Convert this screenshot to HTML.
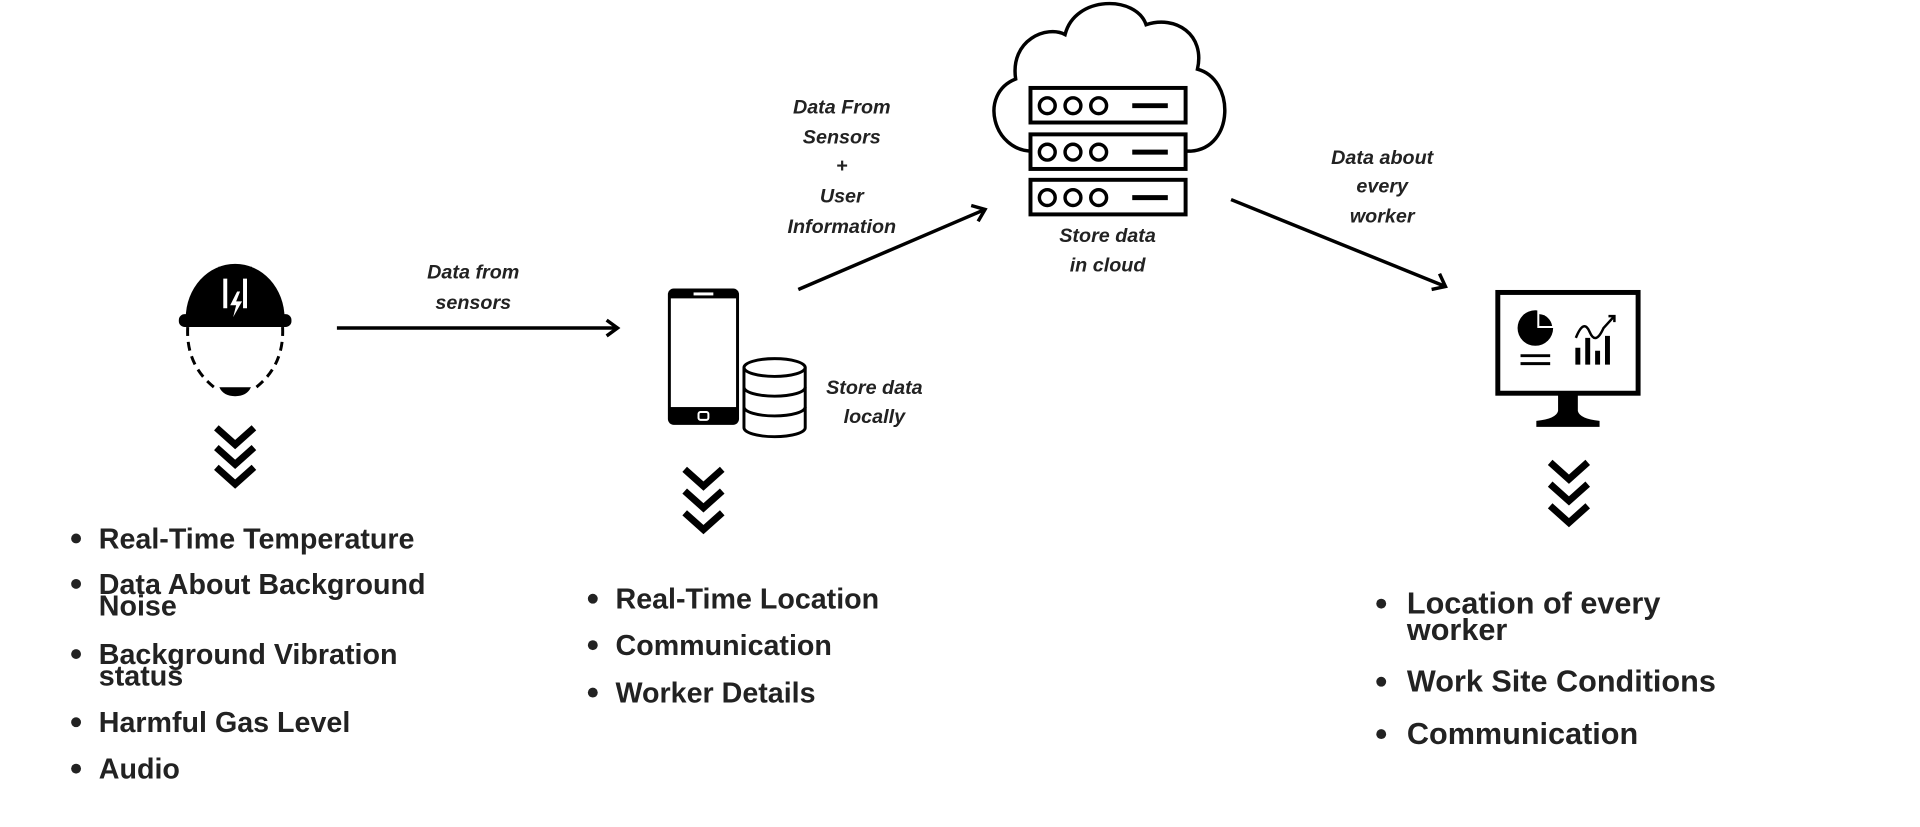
<!DOCTYPE html>
<html><head><meta charset="utf-8"><style>
html,body{margin:0;padding:0;background:#fff;}
svg{display:block}
.lbl{font-family:"Liberation Sans",sans-serif;font-style:italic;font-weight:bold;font-size:20px;fill:#222;text-anchor:middle}
.li{font-family:"Liberation Sans",sans-serif;font-weight:bold;font-size:29px;fill:#222}
.lr{font-family:"Liberation Sans",sans-serif;font-weight:bold;font-size:31px;fill:#222}
</style></head><body>
<svg width="1920" height="827" viewBox="0 0 1920 827" xmlns="http://www.w3.org/2000/svg">
<defs>
<g id="chev"><path d="M-19 0 L0 17 L19 0" fill="none" stroke="#000" stroke-width="7"/></g>
</defs>
<g transform="scale(0.988)">
<path d="M188 322 A50 55 0 0 1 288 322 Z" fill="#000"/>
<rect x="181" y="318" width="114" height="13" rx="6" fill="#000"/>
<rect x="221" y="270" width="34" height="12" fill="#000"/>
<path d="M228 282 v30 M248 282 v30" stroke="#fff" stroke-width="4"/>
<path d="M240 295 l-7 14 h6 l-3 12 l9 -16 h-6 l4 -10 z" fill="#fff"/>
<path d="M190 331 Q188 370 218 393 M286 331 Q288 370 258 393" fill="none" stroke="#000" stroke-width="3" stroke-dasharray="9 6"/>
<path d="M222 392 h32 q-4 9 -16 9 q-12 0 -16 -9z" fill="#000"/>
<use href="#chev" x="238" y="433"/><use href="#chev" x="238" y="453"/><use href="#chev" x="238" y="473"/>
<path d="M341 332 H624" stroke="#000" stroke-width="3.5"/>
<path d="M614 324 L625 332 L614 340" fill="none" stroke="#000" stroke-width="3.5"/>
<text class="lbl" x="479" y="282">Data from</text>
<text class="lbl" x="479" y="313">sensors</text>
<rect x="676" y="292" width="72" height="138" rx="6" fill="#000"/>
<rect x="679" y="302" width="66" height="110" fill="#fff"/>
<rect x="702" y="296" width="20" height="3" fill="#fff"/>
<rect x="707" y="417" width="10" height="8" rx="2" fill="none" stroke="#fff" stroke-width="2"/>
<g fill="#fff" stroke="#000" stroke-width="3">
<path d="M753 372 V433 A31 9 0 0 0 815 433 V372"/>
<ellipse cx="784" cy="372" rx="31" ry="9"/>
<path d="M753 392 A31 9 0 0 0 815 392 M753 412 A31 9 0 0 0 815 412" fill="none"/>
</g>
<text class="lbl" x="885" y="399">Store data</text>
<text class="lbl" x="885" y="428">locally</text>
<use href="#chev" x="712" y="475"/><use href="#chev" x="712" y="497"/><use href="#chev" x="712" y="519"/>
<path d="M808 293 L997 212" stroke="#000" stroke-width="3.5"/>
<path d="M983 208 L997 212 L990 224" fill="none" stroke="#000" stroke-width="3.5"/>
<text class="lbl" x="852" y="115">Data From</text>
<text class="lbl" x="852" y="145">Sensors</text>
<text class="lbl" x="852" y="174">+</text>
<text class="lbl" x="852" y="205">User</text>
<text class="lbl" x="852" y="236">Information</text>
<path d="M1045 153 C1005 153 990 95 1028 80 C1022 40 1060 25 1078 35 C1088 -5 1150 -5 1160 25 C1190 15 1220 35 1212 70 C1250 80 1250 150 1205 153 Z" fill="#fff" stroke="#000" stroke-width="3.5"/>
<g fill="#fff" stroke="#000" stroke-width="4">
<rect x="1043" y="89" width="157" height="35"/>
<rect x="1043" y="136" width="157" height="35"/>
<rect x="1043" y="182" width="157" height="35"/>
</g>
<g fill="none" stroke="#000" stroke-width="3.5">
<circle cx="1060" cy="107" r="8"/><circle cx="1086" cy="107" r="8"/><circle cx="1112" cy="107" r="8"/>
<circle cx="1060" cy="154" r="8"/><circle cx="1086" cy="154" r="8"/><circle cx="1112" cy="154" r="8"/>
<circle cx="1060" cy="200" r="8"/><circle cx="1086" cy="200" r="8"/><circle cx="1112" cy="200" r="8"/>
<path d="M1146 107 h36 M1146 154 h36 M1146 200 h36" stroke-width="5"/>
</g>
<text class="lbl" x="1121" y="245">Store data</text>
<text class="lbl" x="1121" y="275">in cloud</text>
<path d="M1246 202 L1463 290" stroke="#000" stroke-width="3.5"/>
<path d="M1449 293 L1463 290 L1457 277" fill="none" stroke="#000" stroke-width="3.5"/>
<text class="lbl" x="1399" y="166">Data about</text>
<text class="lbl" x="1399" y="195">every</text>
<text class="lbl" x="1399" y="225">worker</text>
<rect x="1516" y="296" width="142" height="102" fill="#fff" stroke="#000" stroke-width="5"/>
<path d="M1577 398 h20 v18 q2 8 22 10 v6 h-64 v-6 q20 -2 22 -10z" fill="#000"/>
<circle cx="1554" cy="332" r="18" fill="#000"/>
<path d="M1556 314 A18 18 0 0 1 1574 332 L1556 332Z" fill="#fff"/>
<path d="M1558 318 A14 14 0 0 1 1571 330 L1558 330Z" fill="#000"/>
<path d="M1539 360 h30 M1539 368 h30" stroke="#000" stroke-width="3"/>
<path d="M1597 352 v17 M1607 342 v27 M1617 355 v14 M1627 340 v29" stroke="#000" stroke-width="5"/>
<path d="M1595 342 q8 -20 14 -6 q6 14 14 -4 l10 -11" fill="none" stroke="#000" stroke-width="2.5"/>
<path d="M1628 320 l6 0 l0 6" fill="none" stroke="#000" stroke-width="2.5"/>
<use href="#chev" x="1588" y="468"/><use href="#chev" x="1588" y="490"/><use href="#chev" x="1588" y="512"/>
<g fill="#222">
<circle cx="77" cy="545" r="5"/><circle cx="77" cy="591" r="5"/><circle cx="77" cy="662" r="5"/><circle cx="77" cy="731" r="5"/><circle cx="77" cy="778" r="5"/>
<circle cx="600" cy="606" r="5"/><circle cx="600" cy="653" r="5"/><circle cx="600" cy="701" r="5"/>
<circle cx="1398" cy="611" r="5"/><circle cx="1398" cy="690" r="5"/><circle cx="1398" cy="743" r="5"/>
</g>
<text class="li" x="100" y="555">Real-Time Temperature</text>
<text class="li" x="100" y="601">Data About Background</text>
<text class="li" x="100" y="623">Noise</text>
<text class="li" x="100" y="672">Background Vibration</text>
<text class="li" x="100" y="694">status</text>
<text class="li" x="100" y="741">Harmful Gas Level</text>
<text class="li" x="100" y="788">Audio</text>
<text class="li" x="623" y="616">Real-Time Location</text>
<text class="li" x="623" y="663">Communication</text>
<text class="li" x="623" y="711">Worker Details</text>
<text class="lr" x="1424" y="621">Location of every</text>
<text class="lr" x="1424" y="648">worker</text>
<text class="lr" x="1424" y="700">Work Site Conditions</text>
<text class="lr" x="1424" y="753">Communication</text>
</g>
</svg>
</body></html>
